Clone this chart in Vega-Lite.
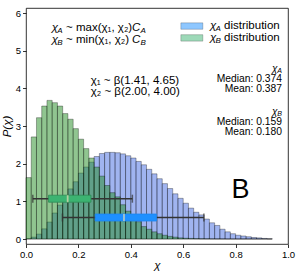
{
  "$schema": "https://vega.github.io/schema/vega-lite/v6.json",
  "width": 262,
  "height": 236,
  "autosize": {"type": "none"},
  "padding": {"left": 26, "top": 8, "right": 11, "bottom": 29},
  "background": "white",
  "config": {
    "view": {"stroke": "black", "strokeWidth": 0.8},
    "font": "Liberation Sans",
    "axis": {"domain": false, "grid": false, "ticks": true, "tickColor": "black", "tickSize": 3.5, "tickWidth": 0.8, "labelColor": "black", "labelFontSize": 9.5, "labelFont": "Liberation Sans", "labelPadding": 2, "labelOverlap": false, "labelFlush": false, "titleFont": "Liberation Sans", "titleFontStyle": "italic", "titleFontWeight": "normal", "titleFontSize": 11.5, "titleColor": "black"}
  },
  "datasets": {
    "hist": [
      {"b": 0.00, "e": 0.02, "A": 0.01, "B": 1.63},
      {"b": 0.02, "e": 0.04, "A": 0.05, "B": 2.71},
      {"b": 0.04, "e": 0.06, "A": 0.13, "B": 3.22},
      {"b": 0.06, "e": 0.08, "A": 0.27, "B": 3.53},
      {"b": 0.08, "e": 0.10, "A": 0.45, "B": 3.68},
      {"b": 0.10, "e": 0.12, "A": 0.69, "B": 3.62},
      {"b": 0.12, "e": 0.14, "A": 0.90, "B": 3.53},
      {"b": 0.14, "e": 0.16, "A": 1.12, "B": 3.33},
      {"b": 0.16, "e": 0.18, "A": 1.33, "B": 3.18},
      {"b": 0.18, "e": 0.20, "A": 1.52, "B": 2.93},
      {"b": 0.20, "e": 0.22, "A": 1.75, "B": 2.65},
      {"b": 0.22, "e": 0.24, "A": 1.91, "B": 2.40},
      {"b": 0.24, "e": 0.26, "A": 2.04, "B": 2.15},
      {"b": 0.26, "e": 0.28, "A": 2.19, "B": 1.91},
      {"b": 0.28, "e": 0.30, "A": 2.27, "B": 1.67},
      {"b": 0.30, "e": 0.32, "A": 2.30, "B": 1.42},
      {"b": 0.32, "e": 0.34, "A": 2.30, "B": 1.23},
      {"b": 0.34, "e": 0.36, "A": 2.29, "B": 1.12},
      {"b": 0.36, "e": 0.38, "A": 2.26, "B": 0.91},
      {"b": 0.38, "e": 0.40, "A": 2.21, "B": 0.74},
      {"b": 0.40, "e": 0.42, "A": 2.15, "B": 0.59},
      {"b": 0.42, "e": 0.44, "A": 2.06, "B": 0.46},
      {"b": 0.44, "e": 0.46, "A": 1.97, "B": 0.33},
      {"b": 0.46, "e": 0.48, "A": 1.85, "B": 0.26},
      {"b": 0.48, "e": 0.50, "A": 1.73, "B": 0.19},
      {"b": 0.50, "e": 0.52, "A": 1.60, "B": 0.14},
      {"b": 0.52, "e": 0.54, "A": 1.47, "B": 0.10},
      {"b": 0.54, "e": 0.56, "A": 1.34, "B": 0.07},
      {"b": 0.56, "e": 0.58, "A": 1.20, "B": 0.05},
      {"b": 0.58, "e": 0.60, "A": 1.08, "B": 0.03},
      {"b": 0.60, "e": 0.62, "A": 0.95, "B": 0.02},
      {"b": 0.62, "e": 0.64, "A": 0.82, "B": 0.015},
      {"b": 0.64, "e": 0.66, "A": 0.71, "B": 0.01},
      {"b": 0.66, "e": 0.68, "A": 0.64, "B": 0.007},
      {"b": 0.68, "e": 0.70, "A": 0.53, "B": 0.005},
      {"b": 0.70, "e": 0.72, "A": 0.43, "B": 0.003},
      {"b": 0.72, "e": 0.74, "A": 0.36, "B": 0.002},
      {"b": 0.74, "e": 0.76, "A": 0.26, "B": 0.001},
      {"b": 0.76, "e": 0.78, "A": 0.19, "B": 0},
      {"b": 0.78, "e": 0.80, "A": 0.14, "B": 0},
      {"b": 0.80, "e": 0.82, "A": 0.10, "B": 0},
      {"b": 0.82, "e": 0.84, "A": 0.08, "B": 0},
      {"b": 0.84, "e": 0.86, "A": 0.06, "B": 0},
      {"b": 0.86, "e": 0.88, "A": 0.04, "B": 0},
      {"b": 0.88, "e": 0.90, "A": 0.03, "B": 0},
      {"b": 0.90, "e": 0.92, "A": 0.015, "B": 0},
      {"b": 0.92, "e": 0.94, "A": 0.005, "B": 0}
    ],
    "box": [
      {"dist": "B", "y": 1.07, "lo": 0.026, "q1": 0.086, "med": 0.159, "q3": 0.248, "hi": 0.406},
      {"dist": "A", "y": 0.57, "lo": 0.139, "q1": 0.264, "med": 0.374, "q3": 0.498, "hi": 0.679}
    ],
    "legendPatch": [
      {"dist": "A", "x0": 0.591, "x1": 0.675, "y0": 5.568, "y1": 5.739},
      {"dist": "B", "x0": 0.591, "x1": 0.675, "y0": 5.253, "y1": 5.424}
    ],
    "chiBig": [
      {"x": 0.0985, "y": 5.61, "t": "χ"},
      {"x": 0.0985, "y": 5.29, "t": "χ"},
      {"x": 0.702, "y": 5.65, "t": "χ"},
      {"x": 0.702, "y": 5.34, "t": "χ"}
    ],
    "subBig": [
      {"x": 0.119, "y": 5.61, "t": "A"},
      {"x": 0.119, "y": 5.29, "t": "B"},
      {"x": 0.723, "y": 5.65, "t": "A"},
      {"x": 0.723, "y": 5.34, "t": "B"},
      {"x": 0.437, "y": 5.61, "t": "A"},
      {"x": 0.437, "y": 5.29, "t": "B"}
    ],
    "plainTop": [
      {"x": 0.153, "y": 5.61, "t": "~  max(χ₁,  χ₂)"},
      {"x": 0.153, "y": 5.29, "t": "~  min(χ₁,  χ₂)"}
    ],
    "legendText": [
      {"x": 0.756, "y": 5.65, "t": "distribution"},
      {"x": 0.756, "y": 5.34, "t": "distribution"}
    ],
    "betaText": [
      {"x": 0.247, "y": 4.19, "t": "χ₁ ~ β(1.41, 4.65)"},
      {"x": 0.247, "y": 3.89, "t": "χ₂ ~ β(2.00, 4.00)"}
    ],
    "cBig": [
      {"x": 0.405, "y": 5.61, "t": "C"},
      {"x": 0.405, "y": 5.29, "t": "C"}
    ],
    "statChi": [
      {"x": 0.960, "y": 4.52, "t": "χ"},
      {"x": 0.960, "y": 3.37, "t": "χ"}
    ],
    "statSub": [
      {"x": 0.977, "y": 4.52, "t": "A"},
      {"x": 0.977, "y": 3.37, "t": "B"}
    ],
    "stats": [
      {"x": 0.977, "y": 4.246, "t": "Median: 0.374"},
      {"x": 0.977, "y": 3.99, "t": "Mean: 0.387"},
      {"x": 0.977, "y": 3.10, "t": "Median: 0.159"},
      {"x": 0.977, "y": 2.845, "t": "Mean: 0.180"}
    ],
    "panel": [
      {"x": 0.819, "y": 1.30, "t": "B"}
    ]
  },
  "layer": [
    {
      "data": {"name": "hist"},
      "mark": {"type": "rect", "fill": "#4169e1", "fillOpacity": 0.5, "stroke": "black", "strokeOpacity": 0.45, "strokeWidth": 0.7},
      "encoding": {
        "x": {"field": "b", "type": "quantitative", "scale": {"domain": [0, 1], "nice": false},
              "axis": {"values": [0, 0.2, 0.4, 0.6, 0.8, 1.0], "format": ".1f", "title": "χ", "titleX": 131, "titleY": 21, "titleBaseline": "middle", "titleAlign": "center"}},
        "x2": {"field": "e"},
        "y": {"field": "A", "type": "quantitative", "scale": {"domain": [0, 6], "nice": false},
              "axis": {"values": [0, 1, 2, 3, 4, 5, 6], "tickCount": 7, "title": "P(χ)", "titleX": -18.5, "titleY": 118, "titleAngle": -90, "titleBaseline": "middle", "titleAlign": "center"}},
        "y2": {"datum": 0}
      }
    },
    {
      "data": {"name": "hist"},
      "mark": {"type": "rect", "fill": "#228b22", "fillOpacity": 0.5, "stroke": "black", "strokeOpacity": 0.45, "strokeWidth": 0.7},
      "encoding": {
        "x": {"field": "b", "type": "quantitative"},
        "x2": {"field": "e"},
        "y": {"field": "B", "type": "quantitative"},
        "y2": {"datum": 0}
      }
    },
    {
      "data": {"name": "box"},
      "mark": {"type": "rule", "color": "#333333", "strokeWidth": 1.5},
      "encoding": {
        "x": {"field": "lo", "type": "quantitative"},
        "x2": {"field": "hi"},
        "y": {"field": "y", "type": "quantitative"}
      }
    },
    {
      "data": {"name": "box"},
      "mark": {"type": "tick", "orient": "vertical", "size": 8, "thickness": 1.5, "color": "#333333"},
      "encoding": {
        "x": {"field": "lo", "type": "quantitative"},
        "y": {"field": "y", "type": "quantitative"}
      }
    },
    {
      "data": {"name": "box"},
      "mark": {"type": "tick", "orient": "vertical", "size": 8, "thickness": 1.5, "color": "#333333"},
      "encoding": {
        "x": {"field": "hi", "type": "quantitative"},
        "y": {"field": "y", "type": "quantitative"}
      }
    },
    {
      "data": {"name": "box"},
      "mark": {"type": "bar", "orient": "horizontal", "size": 7, "strokeWidth": 0.8},
      "encoding": {
        "x": {"field": "q1", "type": "quantitative"},
        "x2": {"field": "q3"},
        "y": {"field": "y", "type": "quantitative"},
        "fill": {"field": "dist", "type": "nominal", "scale": {"domain": ["A", "B"], "range": ["#1e90ff", "#3cb371"]}, "legend": null},
        "stroke": {"field": "dist", "type": "nominal", "scale": {"domain": ["A", "B"], "range": ["#1e86ee", "#2e8b57"]}, "legend": null}
      }
    },
    {
      "data": {"name": "box"},
      "mark": {"type": "tick", "orient": "vertical", "size": 7, "thickness": 1.8, "color": "#e6dcb4"},
      "encoding": {
        "x": {"field": "med", "type": "quantitative"},
        "y": {"field": "y", "type": "quantitative"}
      }
    },
    {
      "data": {"name": "legendPatch"},
      "mark": {"type": "rect", "fillOpacity": 0.5, "stroke": "black", "strokeOpacity": 0.3, "strokeWidth": 0.7},
      "encoding": {
        "x": {"field": "x0", "type": "quantitative"},
        "x2": {"field": "x1"},
        "y": {"field": "y0", "type": "quantitative"},
        "y2": {"field": "y1"},
        "fill": {"field": "dist", "type": "nominal", "scale": {"domain": ["A", "B"], "range": ["#4169e1", "#228b22"]}, "legend": null}
      }
    },
    {
      "data": {"name": "chiBig"},
      "mark": {"type": "text", "fontSize": 11.5, "fontStyle": "italic", "align": "left", "baseline": "middle", "color": "black"},
      "encoding": {
        "x": {"field": "x", "type": "quantitative"},
        "y": {"field": "y", "type": "quantitative"},
        "text": {"field": "t"}
      }
    },
    {
      "data": {"name": "subBig"},
      "mark": {"type": "text", "fontSize": 8, "fontStyle": "italic", "align": "left", "baseline": "middle", "dy": 3, "color": "black"},
      "encoding": {
        "x": {"field": "x", "type": "quantitative"},
        "y": {"field": "y", "type": "quantitative"},
        "text": {"field": "t"}
      }
    },
    {
      "data": {"name": "plainTop"},
      "mark": {"type": "text", "fontSize": 11.5, "align": "left", "baseline": "middle", "color": "black"},
      "encoding": {
        "x": {"field": "x", "type": "quantitative"},
        "y": {"field": "y", "type": "quantitative"},
        "text": {"field": "t"}
      }
    },
    {
      "data": {"name": "legendText"},
      "mark": {"type": "text", "fontSize": 11.5, "align": "left", "baseline": "middle", "color": "black"},
      "encoding": {
        "x": {"field": "x", "type": "quantitative"},
        "y": {"field": "y", "type": "quantitative"},
        "text": {"field": "t"}
      }
    },
    {
      "data": {"name": "betaText"},
      "mark": {"type": "text", "fontSize": 11.5, "align": "left", "baseline": "middle", "color": "black"},
      "encoding": {
        "x": {"field": "x", "type": "quantitative"},
        "y": {"field": "y", "type": "quantitative"},
        "text": {"field": "t"}
      }
    },
    {
      "data": {"name": "cBig"},
      "mark": {"type": "text", "fontSize": 11.5, "fontStyle": "italic", "align": "left", "baseline": "middle", "color": "black"},
      "encoding": {
        "x": {"field": "x", "type": "quantitative"},
        "y": {"field": "y", "type": "quantitative"},
        "text": {"field": "t"}
      }
    },
    {
      "data": {"name": "statChi"},
      "mark": {"type": "text", "fontSize": 10, "fontStyle": "italic", "align": "right", "baseline": "middle", "color": "black"},
      "encoding": {
        "x": {"field": "x", "type": "quantitative"},
        "y": {"field": "y", "type": "quantitative"},
        "text": {"field": "t"}
      }
    },
    {
      "data": {"name": "statSub"},
      "mark": {"type": "text", "fontSize": 7, "fontStyle": "italic", "align": "right", "baseline": "middle", "dy": 2, "color": "black"},
      "encoding": {
        "x": {"field": "x", "type": "quantitative"},
        "y": {"field": "y", "type": "quantitative"},
        "text": {"field": "t"}
      }
    },
    {
      "data": {"name": "stats"},
      "mark": {"type": "text", "fontSize": 10.3, "align": "right", "baseline": "middle", "color": "black"},
      "encoding": {
        "x": {"field": "x", "type": "quantitative"},
        "y": {"field": "y", "type": "quantitative"},
        "text": {"field": "t"}
      }
    },
    {
      "data": {"name": "panel"},
      "mark": {"type": "text", "fontSize": 27, "align": "center", "baseline": "middle", "color": "black"},
      "encoding": {
        "x": {"field": "x", "type": "quantitative"},
        "y": {"field": "y", "type": "quantitative"},
        "text": {"field": "t"}
      }
    }
  ]
}
